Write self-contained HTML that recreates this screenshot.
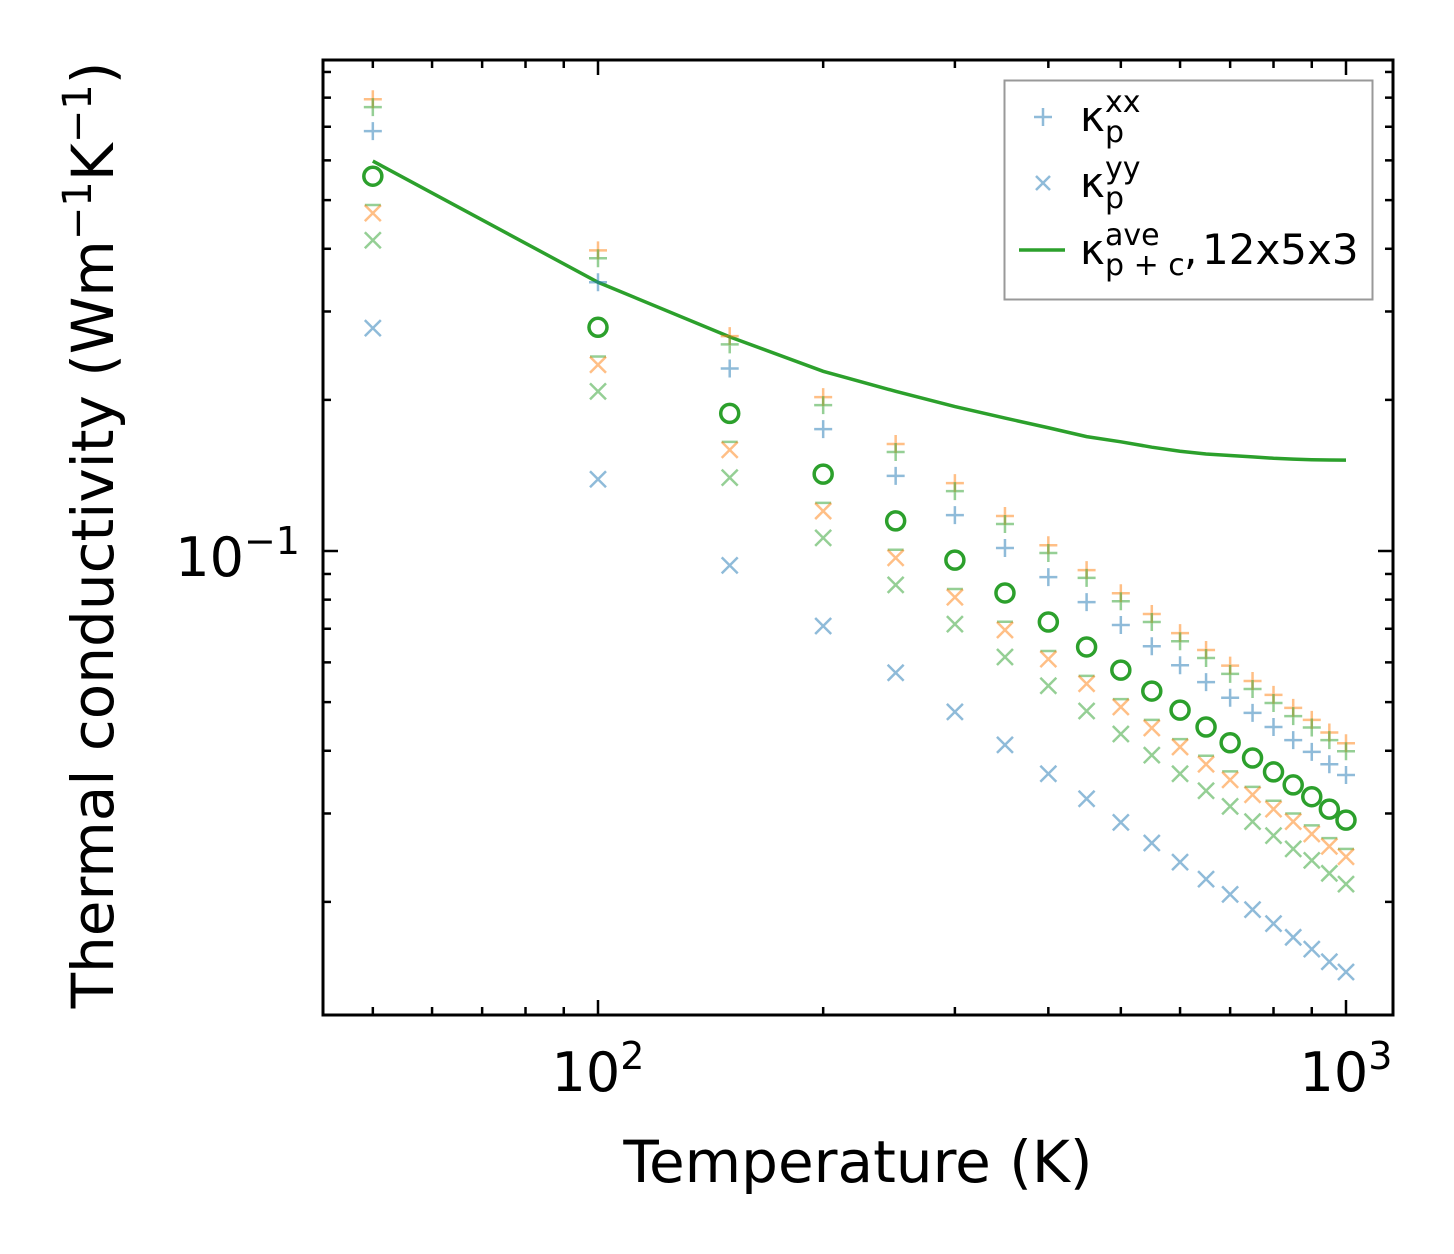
<!DOCTYPE html>
<html><head><meta charset="utf-8"><style>
html,body{margin:0;padding:0;background:#fff;}
svg{display:block;font-family:"DejaVu Sans","Liberation Sans",sans-serif;}
</style></head><body>
<svg id="chart" width="1454" height="1254" viewBox="0 0 1454 1254" xmlns="http://www.w3.org/2000/svg">
<g id="marks"></g>
<g id="axes"></g>
<text x="858" y="1182" font-size="58" text-anchor="middle">Temperature (K)</text>
<text transform="translate(113,535) rotate(-90)" font-size="58" text-anchor="middle">Thermal conductivity (Wm<tspan dy="-22" font-size="40">−1</tspan><tspan dy="22">K</tspan><tspan dy="-22" font-size="40">−1</tspan><tspan dy="22">)</tspan></text>
<g>
<rect x="1004.5" y="80.5" width="368" height="219" fill="#fff" stroke="#999" stroke-width="2"/>
<g>
<path d="M1034 117h18M1043 108v18" stroke="#1f77b4" stroke-opacity="0.5" stroke-width="2.5"/>
<text x="1080" y="131" font-size="42">κ</text>
<text x="1105" y="142" font-size="30">p</text>
<text x="1105" y="112" font-size="30">xx</text>
</g>
<g>
<path d="M1036 176l14 14M1036 190l14-14" stroke="#1f77b4" stroke-opacity="0.5" stroke-width="2.5"/>
<text x="1080" y="197" font-size="42">κ</text>
<text x="1105" y="208" font-size="30">p</text>
<text x="1105" y="178" font-size="30">yy</text>
</g>
<g>
<path d="M1019 250h46" stroke="#2ca02c" stroke-width="3.5"/>
<text x="1080" y="264" font-size="42">κ</text>
<text x="1105" y="275" font-size="30">p + c</text>
<text x="1105" y="245" font-size="30">ave</text>
<text x="1184" y="264" font-size="42">,</text>
<text x="1202" y="264" font-size="42">12x5x3</text>
</g>
</g>
</svg>
<script>
const temps=[50,100,150,200,250,300,350,400,450,500,550,600,650,700,750,800,850,900,950,1000];
const kAve=[0.558,0.279,0.188,0.1423,0.1148,0.0959,0.0825,0.0722,0.0644,0.0579,0.0526,0.0482,0.0446,0.0415,0.0387,0.0363,0.0342,0.0324,0.0306,0.0291];
const kxxOrange=[0.794,0.397,0.268,0.2025,0.1634,0.1365,0.1174,0.1027,0.0916,0.0824,0.0749,0.0686,0.0635,0.0591,0.0551,0.0517,0.0487,0.0461,0.0435,0.0414];
const kxxGreen=[0.766,0.383,0.258,0.1952,0.1575,0.1316,0.1132,0.0991,0.0884,0.0794,0.0722,0.0661,0.0612,0.0569,0.0531,0.0498,0.0469,0.0445,0.0420,0.0399];
const kxxBlue=[0.686,0.343,0.231,0.1749,0.1411,0.1179,0.1014,0.0887,0.0791,0.0712,0.0646,0.0592,0.0548,0.0510,0.0476,0.0446,0.0420,0.0398,0.0376,0.0358];
const kzzGreen=[0.489,0.244,0.165,0.1247,0.1006,0.0840,0.0723,0.0632,0.0564,0.0507,0.0461,0.0422,0.0391,0.0364,0.0339,0.0318,0.0300,0.0284,0.0268,0.0255];
const kyyOrange=[0.471,0.235,0.159,0.1201,0.0969,0.0809,0.0696,0.0609,0.0544,0.0489,0.0444,0.0407,0.0376,0.0350,0.0327,0.0306,0.0289,0.0273,0.0258,0.0246];
const kyyGreen=[0.416,0.208,0.140,0.1062,0.0856,0.0715,0.0615,0.0539,0.0480,0.0432,0.0392,0.0360,0.0333,0.0310,0.0289,0.0271,0.0255,0.0242,0.0228,0.0217];
const kyyBlue=[0.278,0.139,0.0936,0.0709,0.0572,0.0478,0.0411,0.0360,0.0321,0.0288,0.0262,0.0240,0.0222,0.0207,0.0193,0.0181,0.0170,0.0161,0.0152,0.0145];
const kLine=[0.598,0.343,0.267,0.228,0.208,0.194,0.184,0.176,0.169,0.165,0.161,0.158,0.156,0.155,0.154,0.153,0.1524,0.152,0.1518,0.1517];
const xMajor=[100,1000];
const xMajorLabels=["2","3"];
const yMajor=[0.1];
const yMajorLabels=["−1"];

const NS="http://www.w3.org/2000/svg";
const L=323,R=1393,T=60,B=1015;
function xs(v){return 598+748*(Math.log10(v)-2);}
function ys(v){return 551-502*(Math.log10(v)+1);}
const marks=document.getElementById('marks');
const axes=document.getElementById('axes');
function mk(tag,attrs,parent){const e=document.createElementNS(NS,tag);for(const k in attrs)e.setAttribute(k,attrs[k]);parent.appendChild(e);return e;}
const C0='#1f77b4',C1='#ff7f0e',C2='#2ca02c';
function plus(arr,col,name){arr.forEach((v,i)=>{const x=xs(temps[i]),y=ys(v);
const p=mk('path',{d:`M${x-9} ${y}h18M${x} ${y-9}v18`,stroke:col,'stroke-opacity':0.5,'stroke-width':2.5,fill:'none'},marks);

});}
function cross(arr,col,name){arr.forEach((v,i)=>{const x=xs(temps[i]),y=ys(v);
const p=mk('path',{d:`M${x-8} ${y-8}l16 16M${x-8} ${y+8}l16 -16`,stroke:col,'stroke-opacity':0.5,'stroke-width':2.5,fill:'none'},marks);

});}
function hline(arr,col,name){arr.forEach((v,i)=>{const x=xs(temps[i]),y=ys(v);
const p=mk('path',{d:`M${x-8} ${y}h16`,stroke:col,'stroke-opacity':0.5,'stroke-width':2.5,fill:'none'},marks);

});}
const ln=mk('polyline',{points:kLine.map((v,i)=>xs(temps[i])+','+ys(v)).join(' '),fill:'none',stroke:C2,'stroke-width':3.5},marks);


plus(kxxOrange,C1,'kxx-orange-point');
plus(kxxGreen,C2,'kxx-green-point');
plus(kxxBlue,C0,'kxx-blue-point');
hline(kzzGreen,C2,'kzz-green-point');
cross(kyyOrange,C1,'kyy-orange-point');
cross(kyyGreen,C2,'kyy-green-point');
cross(kyyBlue,C0,'kyy-blue-point');
kAve.forEach((v,i)=>{const c=mk('circle',{cx:xs(temps[i]),cy:ys(v),r:9,fill:'none',stroke:C2,'stroke-width':3.5},marks);

});
function tick(x1,y1,x2,y2,name){const t=mk('line',{x1,y1,x2,y2,stroke:'#000','stroke-width':2.5},axes);

}
const xMinor=[50,60,70,80,90,200,300,400,500,600,700,800,900];
xMinor.forEach(v=>{const x=xs(v);tick(x,B,x,B-8,'x-minor-tick');tick(x,T,x,T+8,'x-minor-tick');});
xMajor.forEach((v,i)=>{const x=xs(v);tick(x,B,x,B-15,'x-major-tick');tick(x,T,x,T+15,'x-major-tick');
const t=mk('text',{x:x,y:1091,'font-size':54,'text-anchor':'middle'},axes);


t.innerHTML='10<tspan dy="-22" font-size="38">'+xMajorLabels[i]+'</tspan>';});
const yMinor=[0.02,0.03,0.04,0.05,0.06,0.07,0.08,0.09,0.2,0.3,0.4,0.5,0.6,0.7,0.8,0.9];
yMinor.forEach(v=>{const y=ys(v);if(y<T||y>B)return;tick(L,y,L+8,y,'y-minor-tick');tick(R,y,R-8,y,'y-minor-tick');});
yMajor.forEach((v,i)=>{const y=ys(v);tick(L,y,L+15,y,'y-major-tick');tick(R,y,R-15,y,'y-major-tick');
const t=mk('text',{x:300,y:y+25,'font-size':54,'text-anchor':'end'},axes);


t.innerHTML='10<tspan dy="-22" font-size="38">'+yMajorLabels[i]+'</tspan>';});
const frame=mk('rect',{x:L,y:T,width:R-L,height:B-T,fill:'none',stroke:'#000','stroke-width':3},axes);


</script>
</body></html>
